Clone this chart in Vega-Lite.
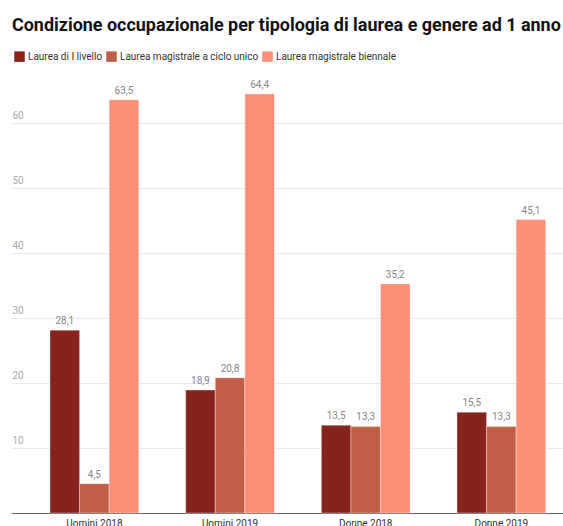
{
  "$schema": "https://vega.github.io/schema/vega-lite/v6.json",
  "usermeta": {"embedOptions": {"actions": false}},
  "width": 552,
  "height": 443,
  "autosize": {"type": "none"},
  "padding": {"left": 11, "top": 70, "right": 0, "bottom": 13},
  "background": "white",
  "title": {
    "text": "Condizione occupazionale per tipologia di laurea e genere ad 1 anno",
    "anchor": "start",
    "frame": "group",
    "orient": "top",
    "offset": 16,
    "dx": 1,
    "font": "Roboto",
    "fontSize": 17.95,
    "fontWeight": "bold",
    "color": "#111111"
  },
  "config": {
    "view": {"stroke": null},
    "locale": {"number": {"decimal": ",", "thousands": ".", "grouping": [3], "currency": ["€", ""]}},
    "font": "Roboto"
  },
  "data": {
    "values": [
      {"gruppo": "Uomini 2018", "tipo": "Laurea di I livello", "valore": 28.1},
      {"gruppo": "Uomini 2018", "tipo": "Laurea magistrale a ciclo unico", "valore": 4.5},
      {"gruppo": "Uomini 2018", "tipo": "Laurea magistrale biennale", "valore": 63.5},
      {"gruppo": "Uomini 2019", "tipo": "Laurea di I livello", "valore": 18.9},
      {"gruppo": "Uomini 2019", "tipo": "Laurea magistrale a ciclo unico", "valore": 20.8},
      {"gruppo": "Uomini 2019", "tipo": "Laurea magistrale biennale", "valore": 64.4},
      {"gruppo": "Donne 2018", "tipo": "Laurea di I livello", "valore": 13.5},
      {"gruppo": "Donne 2018", "tipo": "Laurea magistrale a ciclo unico", "valore": 13.3},
      {"gruppo": "Donne 2018", "tipo": "Laurea magistrale biennale", "valore": 35.2},
      {"gruppo": "Donne 2019", "tipo": "Laurea di I livello", "valore": 15.5},
      {"gruppo": "Donne 2019", "tipo": "Laurea magistrale a ciclo unico", "valore": 13.3},
      {"gruppo": "Donne 2019", "tipo": "Laurea magistrale biennale", "valore": 45.1}
    ]
  },
  "encoding": {
    "x": {
      "field": "gruppo",
      "type": "nominal",
      "sort": ["Uomini 2018", "Uomini 2019", "Donne 2018", "Donne 2019"],
      "scale": {"paddingInner": 0.346, "paddingOuter": 0.2075, "align": 0.693},
      "axis": {
        "title": null,
        "labelAngle": 0,
        "ticks": false,
        "domainColor": "#666666",
        "domainWidth": 1,
        "labelColor": "#333333",
        "labelFontSize": 10,
        "labelFont": "Roboto",
        "labelPadding": 5,
        "grid": false
      }
    },
    "xOffset": {
      "field": "tipo",
      "type": "nominal",
      "sort": ["Laurea di I livello", "Laurea magistrale a ciclo unico", "Laurea magistrale biennale"],
      "scale": {"paddingInner": 0, "paddingOuter": 0}
    },
    "y": {
      "field": "valore",
      "type": "quantitative",
      "scale": {"domain": [0, 68.08], "nice": false},
      "axis": {
        "title": null,
        "values": [10, 20, 30, 40, 50, 60],
        "domain": false,
        "ticks": false,
        "tickSize": 0,
        "labelAlign": "left",
        "labelBaseline": "alphabetic",
        "labelPadding": -1,
        "labelOffset": -4,
        "labelColor": "#aaaaaa",
        "labelFontSize": 10,
        "labelFont": "Roboto",
        "gridColor": "#ebebeb",
        "gridWidth": 1
      }
    }
  },
  "layer": [
    {
      "mark": {"type": "bar", "stroke": "#ffffff", "strokeWidth": 0.6, "strokeOpacity": 0.6},
      "encoding": {
        "color": {
          "field": "tipo",
          "type": "nominal",
          "sort": ["Laurea di I livello", "Laurea magistrale a ciclo unico", "Laurea magistrale biennale"],
          "scale": {
            "domain": ["Laurea di I livello", "Laurea magistrale a ciclo unico", "Laurea magistrale biennale"],
            "range": ["#86231a", "#c15e47", "#ff9077"]
          },
          "legend": {
            "title": null,
            "orient": "none",
            "legendX": 3,
            "legendY": -19,
            "direction": "horizontal",
            "columns": 3,
            "symbolType": "square",
            "symbolSize": 110,
            "symbolStrokeWidth": 0,
            "symbolOpacity": 1,
            "labelFontSize": 10,
            "labelFont": "Roboto",
            "labelColor": "#333333",
            "labelOffset": 3,
            "columnPadding": 3,
            "labelLimit": 300
          }
        }
      }
    },
    {
      "mark": {"type": "text", "baseline": "alphabetic", "dy": -6, "fontSize": 10, "font": "Roboto", "color": "#888888"},
      "encoding": {
        "text": {"field": "valore", "type": "quantitative", "format": ".1f"}
      }
    }
  ]
}
